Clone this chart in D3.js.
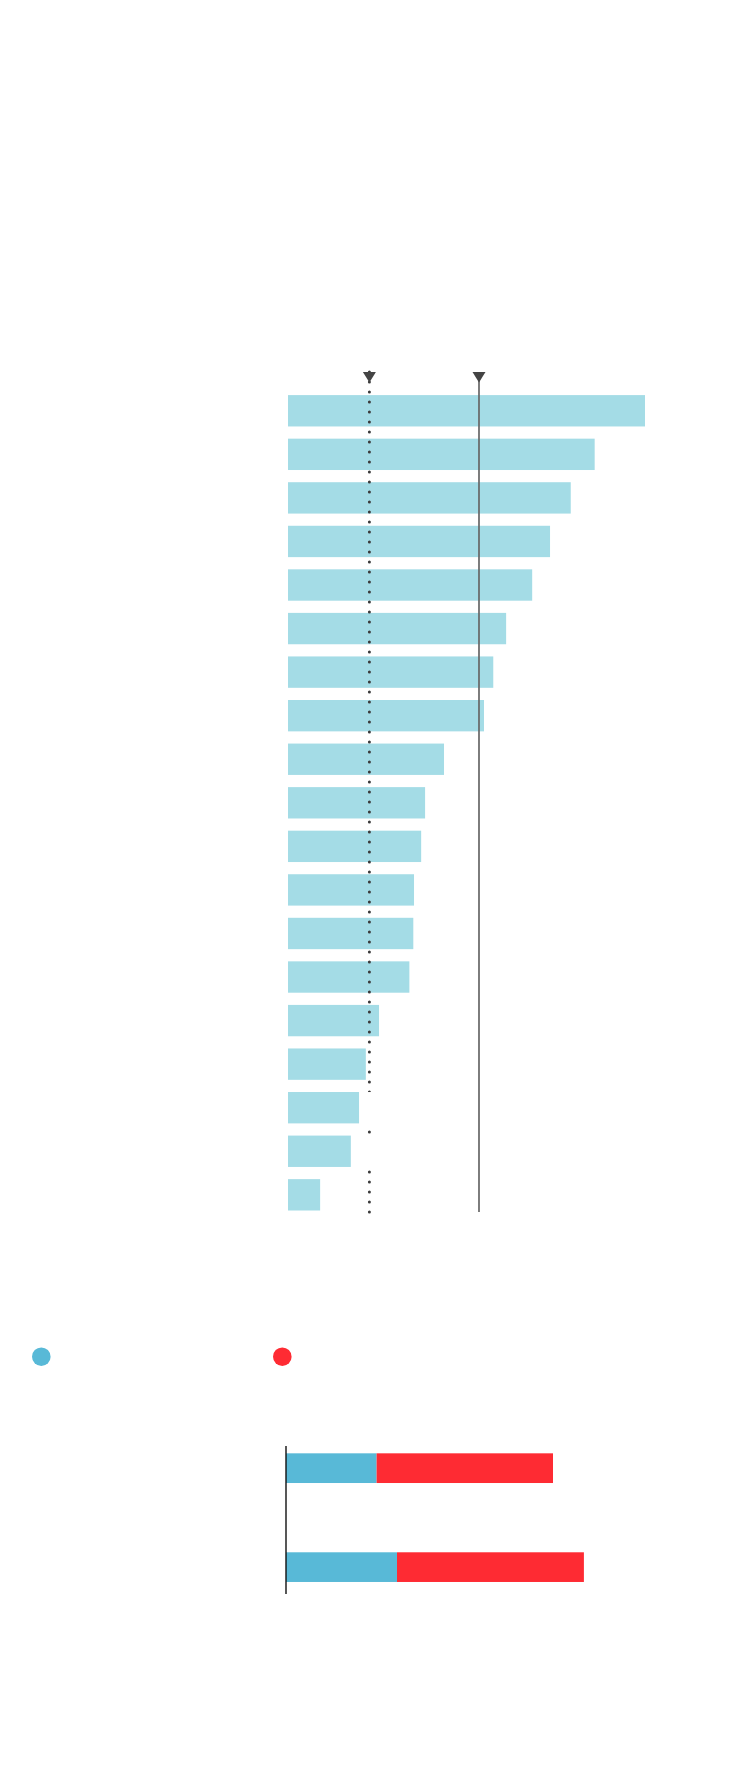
<!DOCTYPE html>
<html>
<head>
<meta charset="utf-8">
<script src="https://cdn.jsdelivr.net/npm/d3@7"></script>
<style>
    body { margin: 0; background: #fff; }
    svg { display: block; }
</style>
</head>
<body>
<svg id="chart" width="750" height="1790"></svg>
<script>
// ranking bars, values in % of the top entry
let rankIds = d3.range(1, 20);
let rankValues = [100, 85.9, 79.2, 73.4, 68.4, 61.1, 57.5, 54.9, 43.7, 38.4,
                  37.3, 35.3, 35.1, 34.0, 25.5, 21.8, 19.9, 17.6, 9.0];
let markerValues = [22.8, 53.5];       // dotted marker, solid marker
let labelBoxRows = [16, 17];           // rows whose label box hides the dotted line

// split bars
let splitCats = ["A", "B"];
let splitBlue = [30.2, 37.0];
let splitRed = [58.8, 62.3];

let svg = d3.select("#chart");

function renderRanking() {
    let x = d3.scaleLinear().domain([0, 100]).range([288, 645]);
    let y = d3.scaleBand()
        .domain(rankIds)
        .range([389, 1216.6])
        .paddingInner(0.28)
        .paddingOuter(0.14);

    let g = svg.append("g");

    g.selectAll(".rank-bar")
        .data(rankValues)
        .enter()
        .append("rect")
        .attr("class", "rank-bar")
        .attr("x", x(0))
        .attr("y", (d, i) => y(rankIds[i]))
        .attr("width", d => x(d) - x(0))
        .attr("height", y.bandwidth())
        .attr("fill", "#a4dce6");

    let lineTop = 372;
    let lineBottom = y(rankIds[rankIds.length - 1]) + y.bandwidth() + 1.5;

    // dotted marker
    g.append("line")
        .attr("x1", x(markerValues[0]))
        .attr("x2", x(markerValues[0]))
        .attr("y1", lineTop)
        .attr("y2", lineBottom + 1)
        .attr("stroke", "#3a3a3a")
        .attr("stroke-width", 3)
        .attr("stroke-linecap", "round")
        .attr("stroke-dasharray", "0 10");

    // label boxes (white) covering the dotted line
    g.selectAll(".label-box")
        .data(labelBoxRows)
        .enter()
        .append("rect")
        .attr("class", "label-box")
        .attr("x", d => x(rankValues[d]) + 2)
        .attr("y", d => y(rankIds[d]))
        .attr("width", 40)
        .attr("height", y.bandwidth() + 3)
        .attr("fill", "#fff");

    // solid marker
    g.append("line")
        .attr("x1", x(markerValues[1]))
        .attr("x2", x(markerValues[1]))
        .attr("y1", lineTop)
        .attr("y2", lineBottom)
        .attr("stroke", "#666")
        .attr("stroke-width", 1.7);

    // triangles on top of both markers
    g.selectAll(".marker-tri")
        .data(markerValues)
        .enter()
        .append("path")
        .attr("class", "marker-tri")
        .attr("d", d => {
            let cx = x(d);
            return "M" + (cx - 6.5) + "," + lineTop + "L" + (cx + 6.5) + "," + lineTop +
                   "L" + cx + "," + (lineTop + 10.5) + "Z";
        })
        .attr("fill", "#444");
}

function renderSplit() {
    // legend dots
    svg.selectAll(".legend-dot")
        .data(["#58b9d7", "#fe2b33"])
        .enter()
        .append("circle")
        .attr("class", "legend-dot")
        .attr("cx", (d, i) => i == 0 ? 41.3 : 282.3)
        .attr("cy", 1356.7)
        .attr("r", 9.3)
        .attr("fill", d => d);

    let x = d3.scaleLinear().domain([0, 100]).range([286, 586]);
    let y = d3.scaleBand()
        .domain(splitCats)
        .range([1446, 1589.3])
        .paddingInner(0.7)
        .paddingOuter(0.074);

    let g = svg.append("g");

    g.selectAll(".blue-bar")
        .data(splitBlue)
        .enter()
        .append("rect")
        .attr("class", "blue-bar")
        .attr("x", x(0))
        .attr("y", (d, i) => y(splitCats[i]))
        .attr("width", d => x(d) - x(0))
        .attr("height", y.bandwidth())
        .attr("fill", "#58b9d7");

    g.selectAll(".red-bar")
        .data(splitRed)
        .enter()
        .append("rect")
        .attr("class", "red-bar")
        .attr("x", (d, i) => x(splitBlue[i]))
        .attr("y", (d, i) => y(splitCats[i]))
        .attr("width", (d, i) => x(splitBlue[i] + d) - x(splitBlue[i]))
        .attr("height", y.bandwidth())
        .attr("fill", "#fe2b33");

    g.append("line")
        .attr("x1", x(0))
        .attr("x2", x(0))
        .attr("y1", 1446)
        .attr("y2", 1594)
        .attr("stroke", "#111")
        .attr("stroke-width", 1.4);
}

renderRanking();
renderSplit();
</script>
</body>
</html>
